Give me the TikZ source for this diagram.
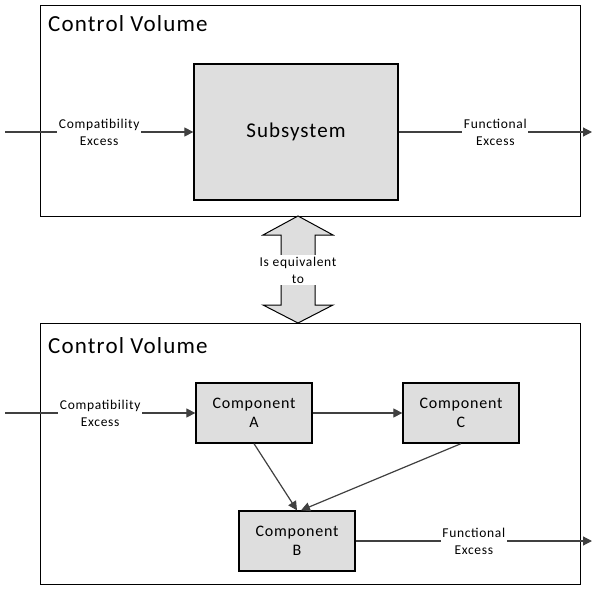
\documentclass[tikz,border=0pt]{standalone}
\usepackage{fontspec}
\setmainfont{Carlito}[LetterSpace=5]
\usetikzlibrary{arrows.meta,positioning}

\definecolor{boxgray}{RGB}{222,222,222}
\definecolor{linegray}{RGB}{64,64,64}

\tikzset{
  cvbox/.style={draw, line width=1pt, anchor=north west, inner sep=0pt},
  cvtitle/.style={anchor=base west, inner sep=0pt, font=\fontsize{23}{27}\selectfont},
  blockbox/.style={draw, line width=1.3pt, fill=boxgray, align=center, inner sep=0pt},
  flow/.style={draw=linegray, line width=1.2pt, -{Triangle[length=9pt,width=9pt]}},
  flowlabel/.style={fill=white, align=center, inner sep=1.5pt, font=\fontsize{13.5}{17}\selectfont},
}

\begin{document}
\begin{tikzpicture}[x=1pt,y=-1pt]
\useasboundingbox (0,0) rectangle (595,589);

% upper control volume
\node[cvbox, minimum width=540pt, minimum height=211pt] (cvtop) at (40,5) {};
\node[cvtitle] (titletop) at (48,31) {Control Volume};
\node[blockbox, minimum width=204pt, minimum height=136pt,
      font=\fontsize{21}{25}\selectfont] (sub) at (296,132) {Subsystem};
\coordinate (intop) at (5,132);
\coordinate (outtop) at (592,132);
\draw[flow] (intop) -- node[flowlabel] (lblintop) {Compatibility\\Excess} (sub.west);
\draw[flow] (sub.east) -- node[flowlabel] (lblouttop) {Functional\\Excess} (outtop);

% equivalence arrow
\filldraw[fill=boxgray, line width=1pt]
  (298,216) -- (333,235) -- (315,235) -- (315,305) -- (333,305) -- (298,323)
  -- (263,305) -- (281,305) -- (281,235) -- (263,235) -- cycle;
\node[flowlabel, inner sep=2pt] (equiv) at (298,270) {Is equivalent\\to};

% lower control volume
\node[cvbox, minimum width=540pt, minimum height=261pt] (cvbot) at (40,323) {};
\node[cvtitle] (titlebot) at (48,353) {Control Volume};
\node[blockbox, minimum width=116pt, minimum height=60pt,
      font=\fontsize{16}{19}\selectfont] (compA) at (254,413) {Component\\A};
\node[blockbox, minimum width=116pt, minimum height=60pt,
      font=\fontsize{16}{19}\selectfont] (compC) at (461,413) {Component\\C};
\node[blockbox, minimum width=116pt, minimum height=60pt,
      font=\fontsize{16}{19}\selectfont] (compB) at (297,541) {Component\\B};
\coordinate (inbot) at (5,413);
\coordinate (outbot) at (592,541);
\draw[flow] (inbot) -- node[flowlabel] (lblinbot) {Compatibility\\Excess} (compA.west);
\draw[flow] (compA.east) -- (compC.west);
\draw[flow] (compA.south) -- (compB.north);
\draw[flow] (compC.south) -- ([xshift=4pt]compB.north);
\draw[flow] (compB.east) -- node[flowlabel] (lbloutbot) {Functional\\Excess} (outbot);
\end{tikzpicture}
\end{document}
